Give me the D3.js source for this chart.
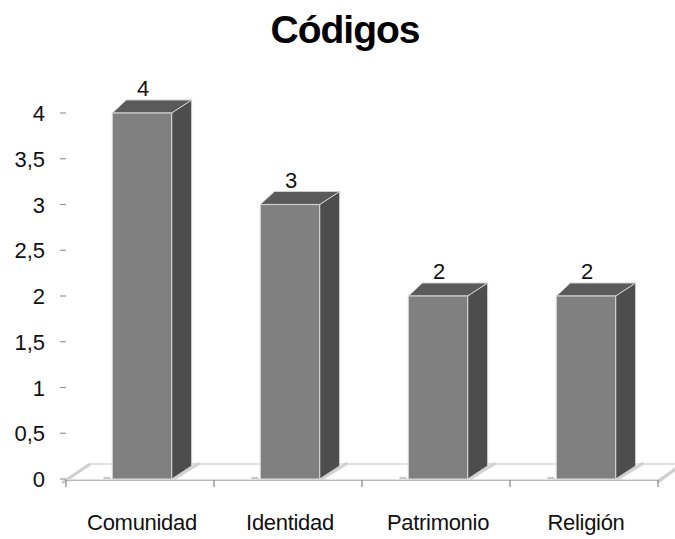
<!DOCTYPE html>
<html>
<head>
<meta charset="utf-8">
<script src="https://cdn.jsdelivr.net/npm/d3@7/dist/d3.min.js"></script>
<style>
  html, body { margin: 0; padding: 0; background: #fff; }
  svg { display: block; }
</style>
</head>
<body>
<script>
const title = "Códigos";
const categories = ["Comunidad", "Identidad", "Patrimonio", "Religión"];
const values = [4, 3, 2, 2];
const yTicks = [0, 0.5, 1, 1.5, 2, 2.5, 3, 3.5, 4];

const W = 675, H = 539;
const svg = d3.select("body").append("svg").attr("width", W).attr("height", H);

const font = "'Liberation Sans', Arial, Helvetica, sans-serif";
const x0 = 66, x1 = 658, yBase = 479;
const y = d3.scaleLinear().domain([0, 4]).range([yBase, 113]);
const x = d3.scaleBand().domain(categories).range([x0 + 2, x1 + 2]).paddingInner(0.6).paddingOuter(0.3);

const dx = 20, dy = -13;       // bar depth
const fdx = 24, fdy = -16;     // floor depth

// Title
svg.append("text").attr("x", 345).attr("y", 43).attr("text-anchor", "middle")
  .attr("font-family", font).attr("font-weight", "bold").attr("font-size", 39)
  .attr("letter-spacing", -1).attr("fill", "#000").text(title);

// Floor
const floor = svg.append("g");
floor.append("path")
  .attr("d", `M${x0},${yBase+1} L${x1},${yBase+1} L${x1+fdx},${yBase+1+fdy} L${x0+fdx},${yBase+1+fdy} Z`)
  .attr("fill", "#fff").attr("stroke", "#c4c4c4").attr("stroke-width", 1.2);
floor.append("line").attr("x1", x0-4).attr("y1", yBase+4).attr("x2", x0+fdx).attr("y2", yBase+1+fdy)
  .attr("stroke", "#cfcfcf").attr("stroke-width", 3);
floor.append("line").attr("x1", x1).attr("y1", yBase+3).attr("x2", x1+fdx).attr("y2", yBase+1+fdy)
  .attr("stroke", "#cfcfcf").attr("stroke-width", 3);
floor.append("line").attr("x1", x0).attr("y1", yBase+1.5).attr("x2", x1).attr("y2", yBase+1.5)
  .attr("stroke", "#b8b8b8").attr("stroke-width", 1.2);

// Category ticks on floor front edge
const step = (x1 - x0) / categories.length;
d3.range(categories.length + 1).forEach(i => {
  const xx = x0 + i * step;
  svg.append("line").attr("x1", xx).attr("x2", xx).attr("y1", yBase + 1).attr("y2", yBase + 8)
    .attr("stroke", "#888").attr("stroke-width", 1.2);
});

// Y axis ticks
const yAxis = svg.append("g");
yTicks.forEach(t => {
  yAxis.append("line").attr("x1", 60).attr("x2", 66).attr("y1", y(t)).attr("y2", y(t))
    .attr("stroke", "#999").attr("stroke-width", 1.2);
  yAxis.append("text").attr("x", 45).attr("y", y(t) + 8).attr("text-anchor", "end")
    .attr("font-family", font).attr("font-size", 22).attr("fill", "#111")
    .text(String(t).replace(".", ","));
});

// Bars
const bars = svg.append("g");
categories.forEach((c, i) => {
  const v = values[i];
  const xl = x(c), xr = x(c) + x.bandwidth();
  const yt = y(v), yb = y(0);
  // floor shadow marks
  bars.append("line").attr("x1", xr + 2).attr("y1", yb).attr("x2", xr + 2 + dx + 6).attr("y2", yb + dy - 3)
    .attr("stroke", "#d2d2d2").attr("stroke-width", 3);
  bars.append("line").attr("x1", xl - 9).attr("y1", yb - 1).attr("x2", xl - 2).attr("y2", yb - 1)
    .attr("stroke", "#c8c8c8").attr("stroke-width", 2);
  // side
  bars.append("path")
    .attr("d", `M${xr},${yb} L${xr+dx},${yb+dy} L${xr+dx},${yt+dy} L${xr},${yt} Z`)
    .attr("fill", "#4d4d4d").attr("stroke", "#cfcfcf").attr("stroke-width", 1);
  // top
  bars.append("path")
    .attr("d", `M${xl},${yt} L${xl+dx*0.7},${yt+dy} L${xr+dx},${yt+dy} L${xr},${yt} Z`)
    .attr("fill", "#5a5a5a").attr("stroke", "#cfcfcf").attr("stroke-width", 1);
  // front
  bars.append("rect").attr("x", xl).attr("y", yt).attr("width", xr - xl).attr("height", yb - yt)
    .attr("fill", "#808080").attr("stroke", "#cfcfcf").attr("stroke-width", 1.2);
  // value label
  bars.append("text").attr("x", (xl + xr) / 2 + 1).attr("y", yt + dy - 4).attr("text-anchor", "middle")
    .attr("font-family", font).attr("font-size", 22).attr("fill", "#111").text(v);
  // category label
  svg.append("text").attr("x", (xl + xr) / 2).attr("y", 530).attr("text-anchor", "middle")
    .attr("font-family", font).attr("font-size", 22).attr("letter-spacing", -0.3).attr("fill", "#111").text(c);
});
</script>
</body>
</html>
